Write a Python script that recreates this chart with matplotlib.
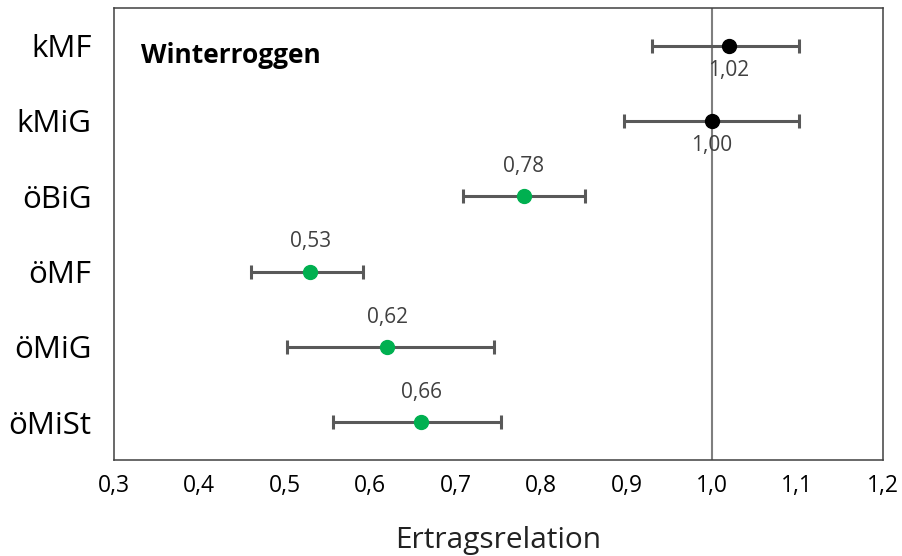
import matplotlib
matplotlib.use("Agg")
import matplotlib.pyplot as plt

# Yield ratio of winter rye per system, with lower/upper interval bounds
categories = ["kMF", "kMiG", "öBiG", "öMF", "öMiG", "öMiSt"]
ratio = [1.02, 1.00, 0.78, 0.53, 0.62, 0.66]
lower = [0.930, 0.897, 0.709, 0.460, 0.503, 0.557]
upper = [1.102, 1.102, 0.851, 0.591, 0.745, 0.753]
label_below = [True, True, False, False, False, False]
point_colors = ["#000000", "#000000", "#00B050", "#00B050", "#00B050", "#00B050"]
xticks = [0.3, 0.4, 0.5, 0.6, 0.7, 0.8, 0.9, 1.0, 1.1, 1.2]

plt.rcParams["font.family"] = ["Open Sans", "DejaVu Sans"]

fig = plt.figure(figsize=(9.03, 5.56), dpi=100)
ax = fig.add_axes([0.1262, 0.1727, 0.8513, 0.8129])

ypos = list(range(len(categories)))

ax.axvline(1.0, color="#7f7f7f", lw=1.5, zorder=1)

for y, v, lo, hi, c, below in zip(ypos, ratio, lower, upper, point_colors, label_below):
    ax.errorbar(v, y, xerr=[[v - lo], [hi - v]], fmt="none", ecolor="#595959",
                elinewidth=2.2, capsize=5, capthick=2.2, zorder=2)
    ax.plot(v, y, "o", color=c, markersize=10, zorder=3)
    txt = f"{v:.2f}".replace(".", ",")
    dy = -18 if below else 21.5
    ax.annotate(txt, (v, y), xytext=(0, dy), textcoords="offset points",
                ha="center", va="center", fontsize=15, color="#404040")

ax.set_xlim(0.3, 1.2)
ax.set_ylim(len(categories) - 0.5, -0.5)
ax.set_xticks(xticks)
ax.set_xticklabels([f"{t:.1f}".replace(".", ",") for t in xticks], fontsize=16.5)
ax.set_yticks(ypos)
ax.set_yticklabels(categories, fontsize=22.5)
ax.tick_params(axis="x", length=0, pad=10)
ax.tick_params(axis="y", length=0, pad=16)
ax.set_xlabel("Ertragsrelation", fontsize=21.5, labelpad=20, color="#222222")

for s in ax.spines.values():
    s.set_color("#404040")
    s.set_linewidth(1.1)

ax.text(0.035, 0.896, "Winterroggen", transform=ax.transAxes, fontsize=19,
        fontweight="bold", ha="left", va="center")

fig.savefig("out.png", dpi=100)
